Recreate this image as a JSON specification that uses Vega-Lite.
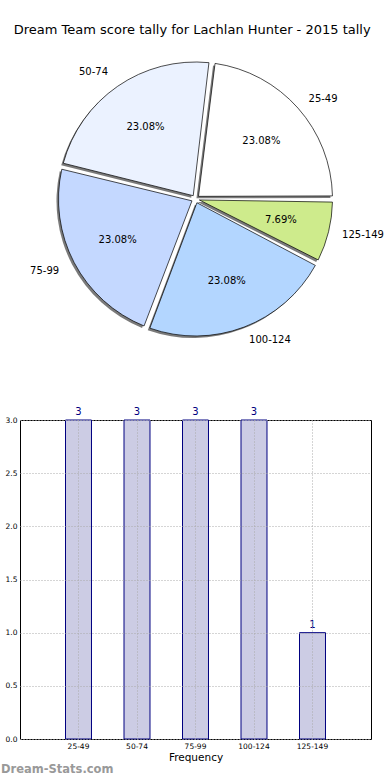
{
  "$schema": "https://vega.github.io/schema/vega-lite/v6.json",
  "padding": {"left": 0, "top": 24, "right": 0, "bottom": 0},
  "config": {
    "font": "DejaVu Sans",
    "view": {"stroke": "black", "strokeWidth": 1}
  },
  "title": {
    "text": "Dream Team score tally for Lachlan Hunter - 2015 tally",
    "fontSize": 13,
    "fontWeight": "normal",
    "font": "DejaVu Sans",
    "color": "#000000",
    "anchor": "middle",
    "offset": 13
  },
  "datasets": {
    "tally": [
      {"bin": "25-49", "count": 3, "pct": "23.08%", "ord": 1, "labR": "25-49", "labL": ""},
      {"bin": "50-74", "count": 3, "pct": "23.08%", "ord": 5, "labR": "", "labL": "50-74"},
      {"bin": "75-99", "count": 3, "pct": "23.08%", "ord": 4, "labR": "", "labL": "75-99"},
      {"bin": "100-124", "count": 3, "pct": "23.08%", "ord": 3, "labR": "100-124", "labL": ""},
      {"bin": "125-149", "count": 1, "pct": "7.69%", "ord": 2, "labR": "125-149", "labL": ""}
    ]
  },
  "vconcat": [
    {
      "width": 351,
      "height": 298,
      "view": {"stroke": null},
      "data": {"name": "tally"},
      "encoding": {
        "theta": {"field": "count", "type": "quantitative", "stack": true, "scale": {"range": [0.1208, 6.404]}},
        "order": {"field": "ord", "type": "quantitative"}
      },
      "layer": [
        {
          "mark": {"type": "arc", "outerRadius": 137, "innerRadius": 4, "padAngle": 0.045, "color": "#7a7a7a", "xOffset": -2, "yOffset": 2}
        },
        {
          "mark": {"type": "arc", "outerRadius": 137, "innerRadius": 4, "padAngle": 0.045, "stroke": "#000000", "strokeWidth": 0.7},
          "encoding": {
            "color": {
              "field": "bin", "type": "nominal", "legend": null,
              "scale": {
                "domain": ["25-49", "50-74", "75-99", "100-124", "125-149"],
                "range": ["#ffffff", "#ebf2ff", "#c4d8ff", "#b3d6ff", "#ceeb8c"]
              }
            }
          }
        },
        {
          "mark": {"type": "text", "radius": 88, "fontSize": 10, "color": "#000000"},
          "encoding": {"text": {"field": "pct", "type": "nominal"}}
        },
        {
          "mark": {"type": "text", "radius": 151, "fontSize": 10, "align": "left", "baseline": "middle", "color": "#000000"},
          "encoding": {"text": {"field": "labR", "type": "nominal"}}
        },
        {
          "mark": {"type": "text", "radius": 154, "fontSize": 10, "align": "right", "baseline": "middle", "color": "#000000"},
          "encoding": {"text": {"field": "labL", "type": "nominal"}}
        }
      ]
    },
    {
      "width": 351,
      "height": 319,
      "data": {"name": "tally"},
      "title": {
        "text": "Dream-Stats.com",
        "orient": "bottom",
        "anchor": "start",
        "frame": "bounds",
        "color": "#999999",
        "fontSize": 11.5,
        "fontWeight": "bold",
        "offset": 1
      },
      "encoding": {
        "x": {
          "field": "bin", "type": "nominal", "sort": null,
          "scale": {"type": "band", "paddingInner": 0.556, "paddingOuter": 0.778},
          "axis": {
            "title": "Frequency", "titleFontSize": 10.5, "titleFontWeight": "normal", "titlePadding": 3,
            "labelAngle": 0, "labelFontSize": 7.5, "labelPadding": 3, "labelColor": "#000000",
            "ticks": false, "domain": false,
            "grid": true, "bandPosition": 0.5, "gridDash": [1, 2], "gridColor": "#aaaaaa", "gridWidth": 1,
            "zindex": 1
          }
        },
        "y": {
          "field": "count", "type": "quantitative",
          "scale": {"domain": [0, 3], "nice": false},
          "axis": {
            "title": null, "values": [0, 0.5, 1, 1.5, 2, 2.5, 3], "format": ".1f",
            "labelFontSize": 7.5, "labelPadding": 3, "labelColor": "#000000",
            "ticks": false, "domain": false, "minExtent": 19, "maxExtent": 19,
            "grid": true, "gridDash": [1, 2], "gridColor": "#aaaaaa", "gridWidth": 1,
            "zindex": 1
          }
        }
      },
      "layer": [
        {
          "mark": {"type": "bar", "fill": "#ccccE4", "stroke": "#000080", "strokeWidth": 1}
        },
        {
          "mark": {"type": "text", "baseline": "bottom", "dy": -3, "fontSize": 10, "color": "#000080", "clip": false},
          "encoding": {"text": {"field": "count", "type": "quantitative"}}
        }
      ]
    }
  ],
  "spacing": 58
}
